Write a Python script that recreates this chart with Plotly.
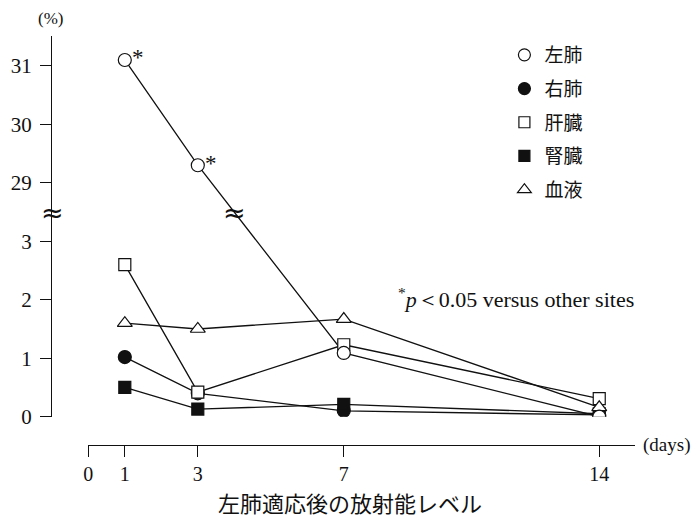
import plotly.graph_objects as go

# Days after administration and uptake (%) at each site
days = [1, 3, 7, 14]
left_lung = [31.1, 29.3, 1.09, 0.0]
right_lung = [1.02, 0.40, 0.10, 0.03]
liver = [2.60, 0.42, 1.23, 0.31]
kidney = [0.50, 0.13, 0.21, 0.05]
blood = [1.60, 1.50, 1.67, 0.16]

site_names = ["左肺", "右肺", "肝臓", "腎臓", "血液"]
x_ticks = [0, 1, 3, 7, 14]
y_tick_values = [0, 1, 2, 3, 29, 30, 31]
significant_days = [1, 3]  # left lung, p < 0.05

# Broken y axis: the 29-31 band sits directly above the 0-3 band
UPPER_OFFSET = 25.0
BREAK_AT = 3.5

# day axis: the data axis spans the full width, the drawn day axis starts at day 0
DAY_MAX = 14.98
DAY_MIN = -0.995
DAY_AXIS_START = (0 - DAY_MIN) / (DAY_MAX - DAY_MIN)


def to_axis(v):
    return v - UPPER_OFFSET if v > 10 else v


SERIF = "Liberation Serif, DejaVu Serif, serif"
CJK = "Noto Sans CJK JP, sans-serif"
INK = "#111111"

series = [
    (left_lung, "circle", "white", 13),
    (right_lung, "circle", INK, 13),
    (liver, "square", "white", 12),
    (kidney, "square", INK, 12),
    (blood, "triangle-up", "white", 13),
]

fig = go.Figure()

# carrier for the drawn day axis (added first so it stays underneath)
fig.add_trace(go.Scatter(
    x=x_ticks, y=[0] * len(x_ticks), xaxis="x2", yaxis="y", mode="markers",
    marker=dict(opacity=0), showlegend=False, hoverinfo="skip",
))

# connecting lines first so every marker sits on top of them
for vals, _, _, _ in series:
    fig.add_trace(go.Scatter(
        x=days, y=[to_axis(v) for v in vals], mode="lines",
        line=dict(color=INK, width=1.3), showlegend=False, hoverinfo="skip",
    ))

draw_order = [1, 3, 2, 4, 0]
for i in draw_order:
    vals, sym, fill, size = series[i]
    fig.add_trace(go.Scatter(
        x=days, y=[to_axis(v) for v in vals], mode="markers",
        marker=dict(symbol=sym, size=size, color=fill,
                    line=dict(color=INK, width=1.2)),
        showlegend=False, name=site_names[i],
    ))

# legend entries (markers only)
for i, (vals, sym, fill, size) in enumerate(series):
    fig.add_trace(go.Scatter(
        x=[None], y=[None], mode="markers", name=site_names[i],
        legendgroup=site_names[i],
        marker=dict(symbol=sym, size=size - 1, color=fill,
                    line=dict(color=INK, width=1.2)),
    ))

# significance asterisks
for d in significant_days:
    k = days.index(d)
    fig.add_annotation(x=d, y=to_axis(left_lung[k]), xref="x", yref="y",
                       text="*", showarrow=False, xanchor="left",
                       xshift=5, yshift=2, font=dict(family=SERIF, size=23, color=INK))

# break marks on the axis and on the left-lung line
BREAK_FONT = dict(family="DejaVu Sans", size=27, color=INK)
fig.add_annotation(x=0, y=BREAK_AT, xref="paper", yref="y", text="≈",
                   showarrow=False, xanchor="center", yanchor="middle",
                   font=BREAK_FONT)
ly = [to_axis(v) for v in left_lung]
for k in range(len(days) - 1):
    if ly[k] > BREAK_AT >= ly[k + 1]:
        t = (ly[k] - BREAK_AT) / (ly[k] - ly[k + 1])
        bx = days[k] + t * (days[k + 1] - days[k])
        fig.add_annotation(x=bx, y=BREAK_AT, xref="x", yref="y", text="≈",
                           showarrow=False, xanchor="center", yanchor="middle",
                           font=BREAK_FONT)

fig.add_annotation(x=-0.003, y=1.044, xref="paper", yref="paper", text="(%)",
                   showarrow=False, xanchor="center", yanchor="middle",
                   font=dict(family=SERIF, size=17, color=INK))
fig.add_annotation(x=1.01, y=0, xref="paper", yref="paper", text="(days)",
                   xanchor="left", yanchor="middle", showarrow=False,
                   font=dict(family=SERIF, size=19, color=INK))
fig.add_annotation(x=0.59, y=0.359, xref="paper", yref="paper",
                   text="<sup>*</sup><i>p</i>＜0.05 versus other sites",
                   xanchor="left", yanchor="middle", showarrow=False,
                   font=dict(family=SERIF, size=22, color=INK))
fig.add_annotation(x=0.511, y=-0.1394, xref="paper", yref="paper",
                   text="左肺適応後の放射能レベル", showarrow=False,
                   xanchor="center", yanchor="middle",
                   font=dict(family=CJK, size=22, color=INK))

tick_font = dict(family=SERIF, size=20, color=INK)
fig.update_layout(
    width=692, height=517,
    margin=dict(l=52, r=57, t=36, b=72),
    paper_bgcolor="white", plot_bgcolor="rgba(0,0,0,0)",
    xaxis=dict(
        domain=[0, 1], range=[DAY_MIN, DAY_MAX],
        showticklabels=False, ticks="", showline=False,
        showgrid=False, zeroline=False,
    ),
    xaxis2=dict(
        domain=[DAY_AXIS_START, 1], range=[0, DAY_MAX], anchor="free", position=0,
        tickvals=x_ticks, ticktext=[str(v) for v in x_ticks],
        ticks="outside", ticklen=11, tickwidth=1.2, tickcolor=INK,
        showline=True, linecolor=INK, linewidth=1.2,
        showgrid=False, zeroline=False, tickfont=tick_font,
    ),
    yaxis=dict(
        domain=[0.0692, 1], range=[0, 6.51], anchor="x", side="left",
        tickvals=[to_axis(v) for v in y_tick_values],
        ticktext=[str(v) for v in y_tick_values],
        ticks="outside", ticklen=11, tickwidth=1.2, tickcolor=INK,
        showline=True, linecolor=INK, linewidth=1.2,
        showgrid=False, zeroline=False, tickfont=dict(family=SERIF, size=21, color=INK),
        ticklabelstandoff=4,
    ),
    legend=dict(
        x=0.776, y=1.0, xanchor="left", yanchor="top",
        font=dict(family=CJK, size=19, color=INK),
        tracegroupgap=6, itemwidth=30, bgcolor="rgba(0,0,0,0)",
    ),
    showlegend=True,
)

fig.write_html("out.html")
